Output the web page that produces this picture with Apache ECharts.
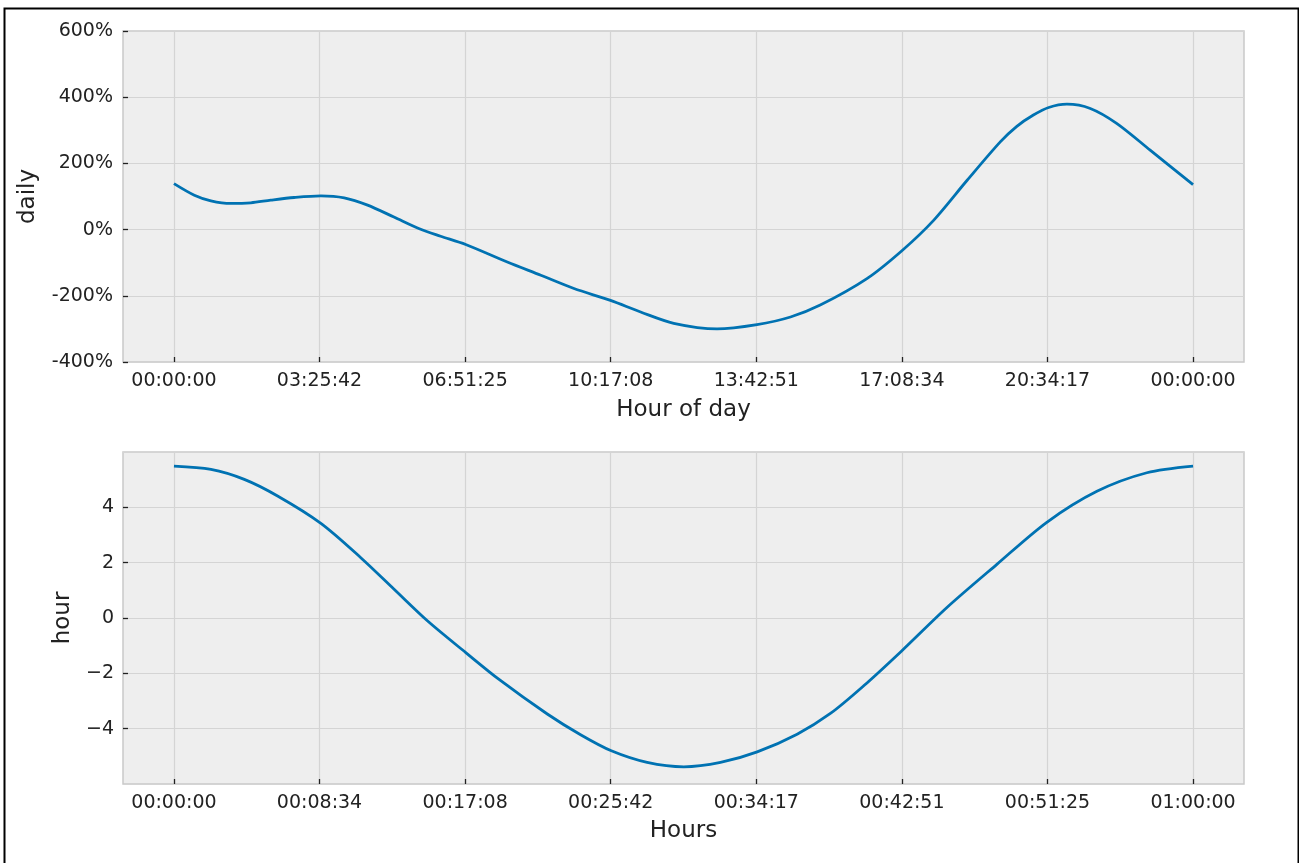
<!DOCTYPE html>
<html>
<head>
<meta charset="utf-8">
<script src="https://cdn.jsdelivr.net/npm/echarts@6/dist/echarts.min.js"></script>
<style>html,body{margin:0;padding:0;background:#fff;}#c{width:1299px;height:863px;}</style>
</head>
<body>
<div id="c"></div>
<script>
// Top panel: daily seasonality (x in hours of day, y in %)
const dailyHours  = [0, 0.48, 0.87, 1.34, 1.81, 2.28, 2.83, 3.46, 4.01, 4.56, 5.18, 5.81, 6.28, 6.87, 7.85, 8.64, 9.42, 10.28, 10.99, 11.77, 12.79, 13.73, 14.52, 15.22, 16.32, 17.15, 17.89, 18.68, 19.46, 19.85, 20.24, 20.60, 21.03, 21.58, 22.20, 22.99, 24];
const dailyValues = [139, 104, 87, 79, 81, 89, 97, 102, 96, 74, 38, 1, -20, -45, -98, -138, -178, -214, -249, -283, -300, -287, -264, -228, -148, -63, 28, 149, 265, 312, 346, 369, 379, 366, 321, 240, 136];
const dailyTickValues = [0, 24/7, 48/7, 72/7, 96/7, 120/7, 144/7, 24];
const dailyTickLabels = ['00:00:00', '03:25:42', '06:51:25', '10:17:08', '13:42:51', '17:08:34', '20:34:17', '00:00:00'];

// Bottom panel: hourly seasonality (x in minutes)
const hourMinutes = [0, 2.18, 4.14, 6.10, 8.65, 11.00, 12.96, 14.92, 17.18, 19.14, 21.98, 23.94, 25.75, 27.86, 30.02, 32.18, 34.34, 36.69, 38.65, 40.61, 42.86, 45.51, 48.45, 51.39, 54.34, 57.28, 60];
const hourValues  = [5.49, 5.37, 5.01, 4.41, 3.42, 2.18, 1.04, -0.10, -1.25, -2.22, -3.47, -4.22, -4.80, -5.22, -5.38, -5.22, -4.84, -4.20, -3.45, -2.45, -1.18, 0.38, 1.94, 3.46, 4.58, 5.25, 5.49];
const hourTickValues = [0, 60/7, 120/7, 180/7, 240/7, 300/7, 360/7, 60];
const hourTickLabels = ['00:00:00', '00:08:34', '00:17:08', '00:25:42', '00:34:17', '00:42:51', '00:51:25', '01:00:00'];

const FONT = 'DejaVu Sans';
const TXT = '#222222';
const LINE = '#0072B2';

function labelFor(vals, labels) {
  return function (v) {
    for (let i = 0; i < vals.length; i++) if (Math.abs(vals[i] - v) < 1e-6) return labels[i];
    return '';
  };
}

const chart = echarts.init(document.getElementById('c'), null, {renderer: 'canvas'});

const tickStyle = {show: true, inside: true, length: 5, lineStyle: {color: '#222', width: 1.3}};
const splitStyle = {show: true, lineStyle: {color: '#d4d4d4', width: 1.2}};
const labelStyle = {color: TXT, fontFamily: FONT, fontSize: 19};
const nameStyle = {color: TXT, fontFamily: FONT, fontSize: 23};

function xAxisDef(grid, min, max, name, gap, vals, labels) {
  return {
    type: 'value', gridIndex: grid, min: min, max: max,
    name: name, nameLocation: 'middle', nameGap: gap, nameTextStyle: nameStyle,
    axisLine: {show: false, onZero: false},
    axisTick: Object.assign({}, tickStyle, {customValues: vals}),
    splitLine: splitStyle,
    axisLabel: Object.assign({}, labelStyle, {margin: 10, customValues: vals, formatter: labelFor(vals, labels)})
  };
}

chart.setOption({
  animation: false,
  backgroundColor: '#ffffff',
  graphic: [{
    type: 'rect', left: 2, top: 6, z: 100,
    shape: {x: 0, y: 0, width: 1294, height: 880},
    style: {fill: 'none', stroke: '#000', lineWidth: 2}
  }],
  grid: [
    {left: 123, top: 31, width: 1121, height: 331, show: true, backgroundColor: '#eeeeee', borderColor: '#c9c9c9', borderWidth: 1.5},
    {left: 123, top: 452, width: 1121, height: 332, show: true, backgroundColor: '#eeeeee', borderColor: '#c9c9c9', borderWidth: 1.5}
  ],
  xAxis: [
    xAxisDef(0, -1.2, 25.2, 'Hour of day', 37, dailyTickValues, dailyTickLabels),
    xAxisDef(1, -3, 63, 'Hours', 36, hourTickValues, hourTickLabels)
  ],
  yAxis: [
    {
      type: 'value', gridIndex: 0, min: -400, max: 600, interval: 200,
      name: 'daily', nameLocation: 'middle', nameRotate: 90, nameGap: 83, nameTextStyle: nameStyle,
      axisLine: {show: false, onZero: false},
      axisTick: tickStyle, splitLine: splitStyle,
      axisLabel: Object.assign({}, labelStyle, {margin: 10, formatter: function (v) { return v + '%'; }})
    },
    {
      type: 'value', gridIndex: 1, min: -6, max: 6, interval: 2,
      name: 'hour', nameLocation: 'middle', nameRotate: 90, nameGap: 48, nameTextStyle: nameStyle,
      axisLine: {show: false, onZero: false},
      axisTick: tickStyle, splitLine: splitStyle,
      axisLabel: Object.assign({}, labelStyle, {
        margin: 9, showMinLabel: false, showMaxLabel: false,
        formatter: function (v) { return Math.abs(v) >= 6 ? '' : String(v).replace('-', '\u2212'); }
      })
    }
  ],
  series: [
    {type: 'line', xAxisIndex: 0, yAxisIndex: 0, showSymbol: false, smooth: 0.3,
     lineStyle: {color: LINE, width: 2.8}, data: dailyHours.map((h, i) => [h, dailyValues[i]])},
    {type: 'line', xAxisIndex: 1, yAxisIndex: 1, showSymbol: false, smooth: 0.3,
     lineStyle: {color: LINE, width: 2.8}, data: hourMinutes.map((m, i) => [m, hourValues[i]])}
  ]
});
</script>
</body>
</html>
